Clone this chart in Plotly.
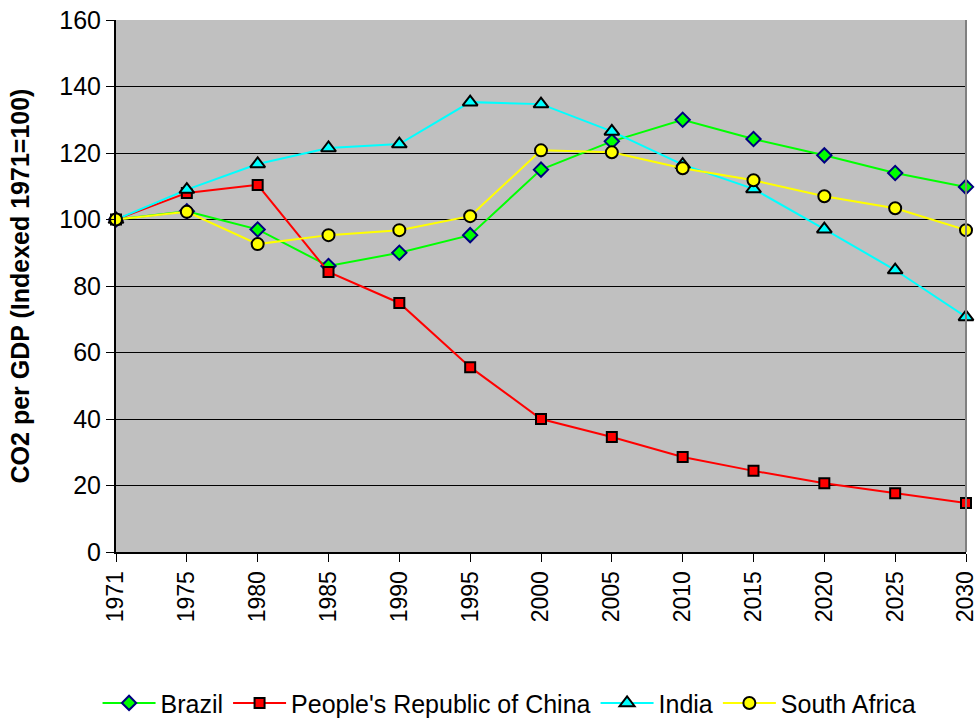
import plotly.graph_objects as go

years = ["1971", "1975", "1980", "1985", "1990", "1995", "2000", "2005", "2010", "2015", "2020", "2025", "2030"]
brazil = [100, 102.5, 97, 86, 90, 95.3, 115, 123.5, 130, 124.2, 119.3, 114, 109.8]
china = [100, 108, 110.4, 84.2, 74.9, 55.6, 40, 34.6, 28.6, 24.4, 20.7, 17.7, 14.7]
india = [100, 109, 116.7, 121.5, 122.7, 135.3, 134.7, 126.5, 116.5, 109.2, 97.1, 84.8, 70.7]
south_africa = [100, 102.3, 92.6, 95.3, 96.8, 101, 120.8, 120.2, 115.4, 111.8, 107, 103.4, 96.8]

fig = go.Figure()
series = [
    ("Brazil", brazil, "#00FF00", "diamond", "#000080", 11),
    ("People's Republic of China", china, "#FF0000", "square", "#000000", 10),
    ("India", india, "#00FFFF", "triangle-up", "#000000", 13),
    ("South Africa", south_africa, "#FFFF00", "circle", "#000000", 12),
]
for name, vals, col, sym, lc, sz in series:
    fig.add_trace(go.Scatter(
        x=years, y=vals, name=name, mode="lines+markers",
        line=dict(color=col, width=2),
        marker=dict(symbol=sym, size=sz, color=col, line=dict(color=lc, width=2)),
        cliponaxis=False,
    ))

fig.update_layout(
    width=977, height=719,
    margin=dict(l=116, r=11, t=20, b=167),
    paper_bgcolor="white",
    plot_bgcolor="#C0C0C0",
    font=dict(family="Liberation Sans, Arial, sans-serif", size=24, color="black"),
    showlegend=True,
    legend=dict(orientation="h", x=0.463, xanchor="center",
                yref="container", y=0.022, yanchor="middle",
                font=dict(size=25), itemwidth=53, tracegroupgap=0),
)
fig.update_xaxes(
    type="category", range=[0, 12], tickangle=-90, automargin=False,
    showline=True, linecolor="black", linewidth=2, mirror=False,
    ticks="outside", ticklen=8, tickcolor="black", showgrid=False,
    tickfont=dict(size=23),
)
fig.update_yaxes(
    range=[0, 160], dtick=20, automargin=False,
    showline=True, linecolor="black", linewidth=2,
    ticks="outside", ticklen=8, tickcolor="black",
    showgrid=True, gridcolor="black", gridwidth=1,
    zeroline=False,
    title=dict(text="<b>CO2 per GDP (Indexed 1971=100)</b>", font=dict(size=25), standoff=23),
    tickfont=dict(size=25),
)
fig.add_shape(type="line", xref="paper", yref="paper", x0=1, x1=1, y0=0, y1=1,
              line=dict(color="#808080", width=2))
fig.write_html("out.html", config={"displayModeBar": False},
               post_script="document.body.style.margin='0';document.body.style.padding='0';")
